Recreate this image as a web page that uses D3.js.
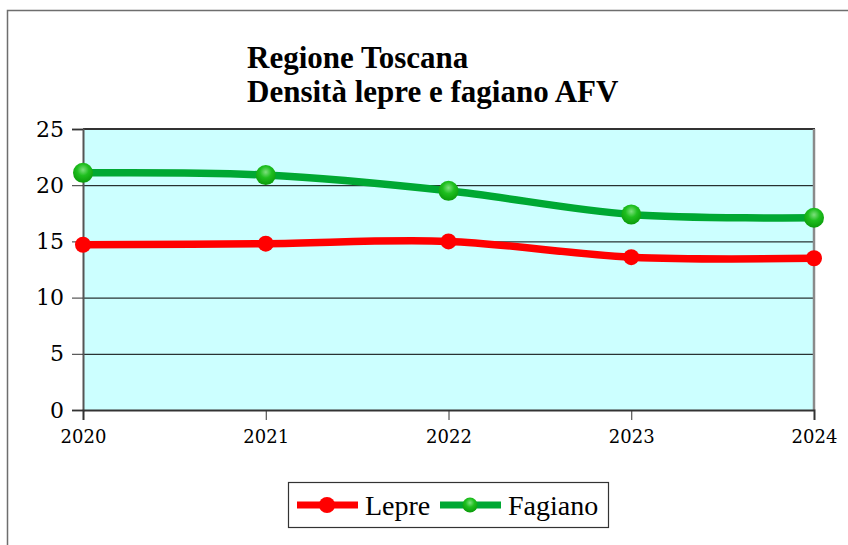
<!DOCTYPE html>
<html>
<head>
<meta charset="utf-8">
<script src="https://cdn.jsdelivr.net/npm/d3@7"></script>
<style>
  body { margin: 0; background: #fff; }
  svg { display: block; font-family: "Liberation Serif", "DejaVu Serif", serif; }
</style>
</head>
<body>
<div id="chart"></div>
<script>
// data
const years = ["2020", "2021", "2022", "2023", "2024"];
const lepre = [14.7, 14.8, 15.0, 13.6, 13.5];
const fagiano = [21.1, 20.9, 19.5, 17.4, 17.1];
const yTicks = [0, 5, 10, 15, 20, 25];
const titleLines = ["Regione Toscana", "Densità lepre e fagiano AFV"];

const width = 848, height = 545;
const plot = { left: 83, top: 129, right: 814, bottom: 410 };

const svg = d3.select("#chart").append("svg")
  .attr("width", width)
  .attr("height", height);

// gradient for the green markers
const defs = svg.append("defs");
const grad = defs.append("radialGradient")
  .attr("id", "greenBall")
  .attr("cx", "50%").attr("cy", "35%").attr("r", "65%");
grad.append("stop").attr("offset", "0%").attr("stop-color", "#7de07d");
grad.append("stop").attr("offset", "45%").attr("stop-color", "#1fbf1f");
grad.append("stop").attr("offset", "100%").attr("stop-color", "#0a9a0a");

// outer chart border (only top and left are in view)
svg.append("rect")
  .attr("x", 7.5).attr("y", 10.5)
  .attr("width", 900).attr("height", 600)
  .attr("fill", "none")
  .attr("stroke", "#6e6e6e")
  .attr("stroke-width", 1.5);

// title
svg.append("g").selectAll("text")
  .data(titleLines)
  .enter()
  .append("text")
  .attr("x", 247)
  .attr("y", (d, i) => 68 + i * 34)
  .style("font-weight", "bold")
  .style("font-size", "31px")
  .text((d) => d);

const x = d3.scalePoint().domain(years).range([plot.left, plot.right]);
const y = d3.scaleLinear().domain([0, 25]).range([plot.bottom, plot.top]);

// plot background
svg.append("rect")
  .attr("x", plot.left).attr("y", plot.top)
  .attr("width", plot.right - plot.left)
  .attr("height", plot.bottom - plot.top)
  .attr("fill", "#ccffff");

// gridlines
svg.append("g").selectAll("line")
  .data(yTicks.filter((d) => d > 0 && d < 25))
  .enter()
  .append("line")
  .attr("x1", plot.left).attr("x2", plot.right)
  .attr("y1", (d) => y(d) + 0.5).attr("y2", (d) => y(d) + 0.5)
  .attr("stroke", "#000")
  .attr("stroke-width", 1);

// plot frame: top dark, right gray
svg.append("line")
  .attr("x1", plot.left).attr("x2", plot.right + 1)
  .attr("y1", plot.top).attr("y2", plot.top)
  .attr("stroke", "#333").attr("stroke-width", 2);
svg.append("line")
  .attr("x1", plot.right).attr("x2", plot.right)
  .attr("y1", plot.top).attr("y2", plot.bottom)
  .attr("stroke", "#8a8a8a").attr("stroke-width", 2.5);

// y axis
const yAxis = svg.append("g")
  .attr("transform", `translate(${plot.left},0)`)
  .call(d3.axisLeft(y).tickValues(yTicks).tickSize(11).tickPadding(8));
yAxis.select(".domain").attr("stroke", "#555").attr("stroke-width", 2);
yAxis.selectAll(".tick line").attr("stroke", "#333");
yAxis.selectAll("text")
  .style("font-size", "22px")
  .style("font-family", "'DejaVu Serif', serif")
  .attr("fill", "#000");

// x axis
const xAxis = svg.append("g")
  .attr("transform", `translate(0,${plot.bottom})`)
  .call(d3.axisBottom(x).tickSize(10).tickPadding(10));
xAxis.select(".domain").attr("stroke", "#333").attr("stroke-width", 2);
xAxis.selectAll(".tick line").attr("stroke", "#333");
xAxis.selectAll("text")
  .style("font-size", "18px")
  .style("font-family", "'DejaVu Serif', serif")
  .attr("fill", "#000");

const line = d3.line()
  .x((d, i) => x(years[i]))
  .y((d) => y(d))
  .curve(d3.curveCatmullRom.alpha(0.5));

// series
const series = [
  { name: "Lepre", values: lepre, color: "#ff0000", r: 8, fill: "#ff0000" },
  { name: "Fagiano", values: fagiano, color: "#00a833", r: 10, fill: "url(#greenBall)" }
];

series.forEach((s) => {
  svg.append("path")
    .datum(s.values)
    .attr("d", line)
    .attr("fill", "none")
    .attr("stroke", s.color)
    .attr("stroke-width", 7.5);
  svg.append("g").selectAll("circle")
    .data(s.values)
    .enter()
    .append("circle")
    .attr("cx", (d, i) => x(years[i]))
    .attr("cy", (d) => y(d))
    .attr("r", s.r)
    .attr("fill", s.fill);
});

// legend
const legend = svg.append("g");
legend.append("rect")
  .attr("x", 288.5).attr("y", 482.5)
  .attr("width", 320).attr("height", 45)
  .attr("fill", "#fff")
  .attr("stroke", "#333")
  .attr("stroke-width", 1.2);

const legendItems = [
  { s: series[0], x0: 297, tx: 365 },
  { s: series[1], x0: 440, tx: 508 }
];
legendItems.forEach((it) => {
  legend.append("line")
    .attr("x1", it.x0).attr("x2", it.x0 + 61)
    .attr("y1", 505).attr("y2", 505)
    .attr("stroke", it.s.color)
    .attr("stroke-width", 7);
  legend.append("circle")
    .attr("cx", it.x0 + 30).attr("cy", 505)
    .attr("r", it.s.name === "Lepre" ? 8 : 7.5)
    .attr("fill", it.s.fill);
  legend.append("text")
    .attr("x", it.tx).attr("y", 515)
    .style("font-size", "28px")
    .text(it.s.name);
});
</script>
</body>
</html>
